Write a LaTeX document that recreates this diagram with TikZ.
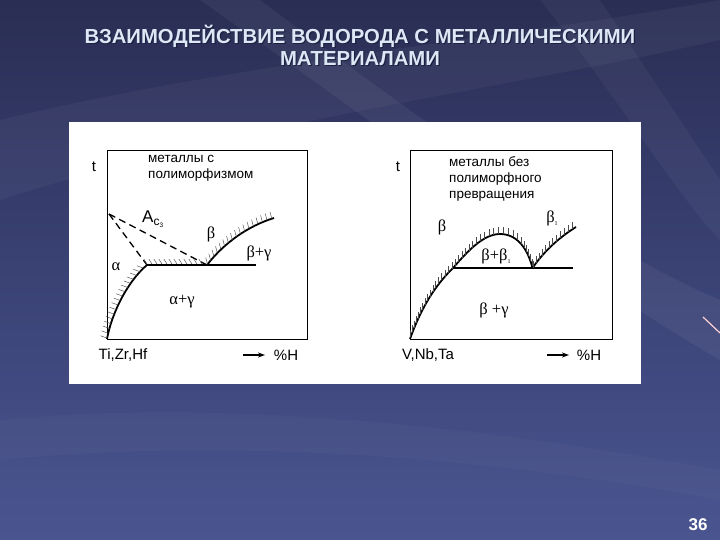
\documentclass[tikz,border=0pt]{standalone}
\usepackage{fontspec}
\setmainfont{Liberation Sans}
\newfontfamily\grk{Liberation Serif}
\usetikzlibrary{decorations.markings,arrows.meta}
\definecolor{bgA}{HTML}{2A2E54}
\definecolor{bgB}{HTML}{4A5590}
\definecolor{bgC}{HTML}{3A4274}
\definecolor{titlec}{HTML}{DDE8F6}
\definecolor{shadowc}{HTML}{1C2040}
\tikzset{
  frame/.style={draw=black, line width=0.9pt},
  curve/.style={draw=black, line width=1.8pt},
  dashline/.style={draw=black, line width=1.3pt, dash pattern=on 7pt off 4.5pt},
  hatch/.style={postaction={decorate, decoration={markings,
      mark=between positions 0.01 and 0.99 step 5pt with {\pgftransformresetnontranslations
        \draw[line width=0.45pt, black!70] (0,0) -- (#1:7pt);}}}},
  lab/.style={inner sep=0pt, font=\fontsize{15}{15}\selectfont},
  txt/.style={inner sep=0pt, anchor=north west, align=left, font=\fontsize{13.5}{16}\selectfont},
  glab/.style={inner sep=0pt, font=\grk\fontsize{16.5}{16.5}\selectfont},
  hdr/.style={inner sep=0pt, align=center, font=\bfseries\fontsize{20.3}{22}\selectfont},
  axarrow/.style={draw=black, line width=1.2pt, -{Stealth[length=7pt,width=5pt]}}
}
\begin{document}
\begin{tikzpicture}[x=1pt,y=-1pt]
\useasboundingbox (0,0) rectangle (720,540);
% background
\shade[top color=bgA, bottom color=bgB, middle color=bgC] (0,0) rectangle (720,540);
\fill[white, opacity=0.04] (0,120) .. controls (250,60) and (500,40) .. (720,0) -- (720,40) .. controls (500,90) and (250,120) .. (0,200) -- cycle;
\fill[white, opacity=0.05] (260,0) .. controls (420,120) and (600,250) .. (720,300) -- (720,360) .. controls (580,280) and (400,140) .. (200,0) -- cycle;
\fill[white, opacity=0.025] (0,420) .. controls (200,400) and (450,420) .. (720,470) -- (720,500) .. controls (450,450) and (200,440) .. (0,460) -- cycle;
\fill[white, opacity=0.04] (540,0) .. controls (620,100) and (680,200) .. (720,240) -- (720,180) .. controls (680,120) and (640,60) .. (600,0) -- cycle;
\draw[color=pink!70!white, line width=1.2pt] (703,317) -- (720,333);
% title
\node[hdr, text=shadowc] (titleshadow) at (361.2,46.2) {ВЗАИМОДЕЙСТВИЕ ВОДОРОДА С МЕТАЛЛИЧЕСКИМИ\\МАТЕРИАЛАМИ};
\node[hdr, text=titlec] (title) at (360,45) {ВЗАИМОДЕЙСТВИЕ ВОДОРОДА С МЕТАЛЛИЧЕСКИМИ\\МАТЕРИАЛАМИ};
\node[inner sep=0pt, text=white, font=\bfseries\fontsize{17}{17}\selectfont] (page) at (698,525) {36};
% panel
\fill[white] (69,122) rectangle (641,384);
% ---------- left diagram ----------
\draw[frame] (107,150) rectangle (307,339);
\coordinate (L0) at (107,339);
\coordinate (P1) at (147,265);
\coordinate (P2) at (207,265);
\coordinate (LE) at (256,265);
\coordinate (LB) at (274,218);
\coordinate (D0) at (109,214);
\draw[dashline] (D0) -- (P1);
\draw[dashline] (D0) -- (P2);
\draw[curve, hatch=160] (L0) .. controls (112,312) and (128,281) .. (P1);
\path[hatch=122] (P1) -- (P2);
\draw[curve] (P1) -- (LE);
\draw[curve, hatch=105] (P2) .. controls (224,243) and (248,226) .. (LB);
\node[lab] (tL) at (94,167) {t};
\node[txt] (hL) at (148,155) {металлы с\\полиморфизмом};
\node[inner sep=0pt, anchor=west] (ac) at (142,219) {\fontsize{17}{17}\selectfont A\raisebox{-2.5pt}{\fontsize{12}{12}\selectfont c}\raisebox{-4.5pt}{\fontsize{6.5}{6.5}\selectfont 3}};
\node[glab] (bL) at (211,234) {β};
\node[glab] (bgL) at (259,253) {β+γ};
\node[glab] (aL) at (116,267) {α};
\node[glab] (agL) at (182,302) {α+γ};
\node[lab] (xL) at (123,355) {Ti,Zr,Hf};
\coordinate (aL0) at (243,355);
\coordinate (aL1) at (265,355);
\draw[axarrow] (aL0) -- (aL1);
\node[lab] (hpL) at (286,355) {\%H};
% ---------- right diagram ----------
\draw[frame] (410,150) rectangle (612,339);
\coordinate (R0) at (410,339);
\coordinate (Q1) at (453,268);
\coordinate (Q3) at (500,234);
\coordinate (Q2) at (532.5,268);
\coordinate (RE) at (572.5,268);
\coordinate (RB) at (576,227);
\draw[curve, hatch=90] (R0) .. controls (424,300) and (440,281) .. (Q1) .. controls (467,252) and (483,234) .. (Q3) .. controls (518,234) and (528,250) .. (Q2);
\draw[draw=black, line width=1.5pt] (Q1) -- (RE);
\draw[curve, hatch=90] (Q2) .. controls (545,250) and (560,237) .. (RB);
\node[lab] (tR) at (398,167) {t};
\node[txt] (hR) at (449,156) {металлы без\\полиморфного\\превращения};
\node[glab] (bR) at (442,227) {β};
\node[glab] (b1R) at (552,218) {β\raisebox{-3pt}{\fontsize{6}{6}\selectfont 1}};
\node[glab] (bb1R) at (496,256) {β+β\raisebox{-3pt}{\fontsize{6}{6}\selectfont 1}};
\node[glab] (bgR) at (494,310) {β +γ};
\node[lab] (xR) at (428,355) {V,Nb,Ta};
\coordinate (aR0) at (547,355);
\coordinate (aR1) at (569,355);
\draw[axarrow] (aR0) -- (aR1);
\node[lab] (hpR) at (589,355) {\%H};
\end{tikzpicture}
\end{document}
